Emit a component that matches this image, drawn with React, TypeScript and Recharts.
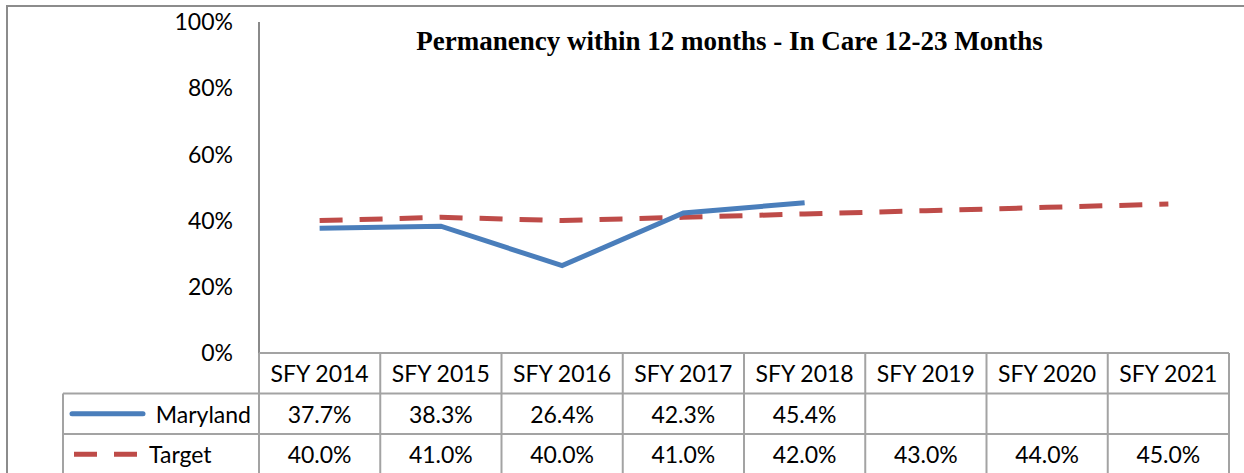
import { Line, LineChart, XAxis, YAxis } from "recharts";

const years = ["SFY 2014", "SFY 2015", "SFY 2016", "SFY 2017", "SFY 2018", "SFY 2019", "SFY 2020", "SFY 2021"];
const maryland: (number | null)[] = [0.377, 0.383, 0.264, 0.423, 0.454, null, null, null];
const target = [0.4, 0.41, 0.4, 0.41, 0.42, 0.43, 0.44, 0.45];
const yTicks = [0, 0.2, 0.4, 0.6, 0.8, 1];

const W = 1244;
const H = 473;
const LEFT = 259;
const RIGHT = 1229;
const TOP = 22;
const BOTTOM = 353;
const COL = (RIGHT - LEFT) / years.length;
const ROW = 40.5;

const BLUE = "#4a7ebb";
const RED = "#be4b48";
const GRID = "#a3a3a3";
const FONT = "Lato, 'Open Sans', sans-serif";

const pct = (v: number) => `${Math.round(v * 100)}%`;
const pct1 = (v: number | null) => (v == null ? "" : `${(v * 100).toFixed(1)}%`);

const data = years.map((year, i) => ({ year, maryland: maryland[i], target: target[i] }));

function DataTable() {
  const rows = [
    { name: "Maryland", values: maryland },
    { name: "Target", values: target },
  ];
  const headTop = BOTTOM;
  return (
    <svg width={W} height={H} style={{ position: "absolute", left: 0, top: 0 }}>
      {/* table grid */}
      <line x1={63} x2={RIGHT} y1={headTop + ROW} y2={headTop + ROW} stroke={GRID} strokeWidth={2} />
      <line x1={63} x2={RIGHT} y1={headTop + ROW * 2} y2={headTop + ROW * 2} stroke={GRID} strokeWidth={2} />
      <line x1={63} x2={63} y1={headTop + ROW} y2={H} stroke={GRID} strokeWidth={2} />
      <line x1={LEFT} x2={RIGHT} y1={headTop} y2={headTop} stroke={GRID} strokeWidth={2} />
      {years.map((_, i) => (
        <line key={i} x1={LEFT + COL * (i + 1)} x2={LEFT + COL * (i + 1)} y1={headTop} y2={H} stroke={GRID} strokeWidth={2} />
      ))}
      <line x1={LEFT} x2={LEFT} y1={headTop} y2={H} stroke={GRID} strokeWidth={2} />
      {years.map((y, i) => (
        <text key={y} x={LEFT + COL * (i + 0.5)} y={headTop + ROW / 2} textAnchor="middle" dominantBaseline="central" fontSize={23} fontFamily={FONT} fill="#000">
          {y}
        </text>
      ))}
      {rows.map((r, ri) => {
        const cy = headTop + ROW * (ri + 1.5);
        return (
          <g key={r.name}>
            {ri === 0 ? (
              <line x1={72} x2={143} y1={cy} y2={cy} stroke={BLUE} strokeWidth={5} strokeLinecap="round" />
            ) : (
              <line x1={74} x2={137} y1={cy} y2={cy} stroke={RED} strokeWidth={5} strokeDasharray="23 17" />
            )}
            <text x={ri === 0 ? 251 : 149} y={cy} textAnchor={ri === 0 ? "end" : "start"} dominantBaseline="central" fontSize={23} fontFamily={FONT} fill="#000">
              {r.name}
            </text>
            {r.values.map((v, i) => (
              <text key={i} x={LEFT + COL * (i + 0.5)} y={cy} textAnchor="middle" dominantBaseline="central" fontSize={23} fontFamily={FONT} fill="#000">
                {pct1(v)}
              </text>
            ))}
          </g>
        );
      })}
    </svg>
  );
}

export default function App() {
  return (
    <div style={{ position: "absolute", left: 0, top: 0, width: W, height: H, overflow: "hidden", background: "#fff" }}>
      <div
        style={{
          position: "absolute",
          left: 6,
          top: 5,
          width: W,
          height: H,
          borderTop: "2px solid #8c8c8c",
          borderLeft: "2px solid #8c8c8c",
        }}
      />
      <LineChart width={W} height={H} data={data} margin={{ top: TOP, right: W - RIGHT, bottom: H - BOTTOM, left: 0 }} style={{ position: "absolute", left: 0, top: 0 }}>
        <XAxis dataKey="year" hide padding={{ left: COL / 2, right: COL / 2 }} />
        <YAxis
          width={LEFT}
          domain={[0, 1]}
          ticks={yTicks}
          tickFormatter={pct}
          tickLine={false}
          tickSize={0}
          tickMargin={26}
          axisLine={{ stroke: "#8a8a8a", strokeWidth: 2 }}
          tick={{ fill: "#000", fontSize: 23, fontFamily: FONT }}
        />
        <Line dataKey="target" stroke={RED} strokeWidth={5} strokeDasharray="23 17" dot={false} isAnimationActive={false} />
        <Line dataKey="maryland" stroke={BLUE} strokeWidth={5} dot={false} isAnimationActive={false} />
      </LineChart>
      <DataTable />
      <div
        style={{
          position: "absolute",
          left: 367,
          top: 26,
          width: 725,
          textAlign: "center",
          fontFamily: "'Liberation Serif', serif",
          fontWeight: "bold",
          fontSize: 27,
          lineHeight: "30px",
          whiteSpace: "nowrap",
          color: "#000",
        }}
      >
        Permanency within 12 months - In Care 12-23 Months
      </div>
    </div>
  );
}
